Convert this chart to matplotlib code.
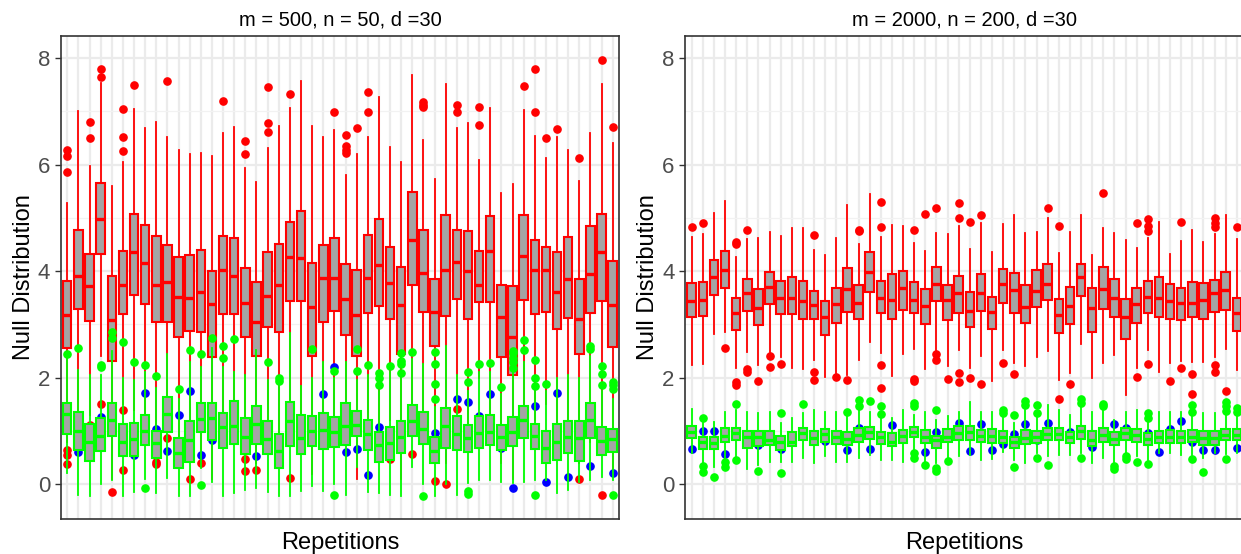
import matplotlib
matplotlib.use("Agg")
import matplotlib.pyplot as plt

plt.rcParams['font.family'] = ['Liberation Sans', 'DejaVu Sans']

# values: (lower whisker, q1, median, q3, upper whisker)
left_title = "m = 500, n = 50, d =30"
left_red = [
    (0.8, 2.55, 3.18, 3.82, 5.27), (1.2, 3.29, 3.91, 4.77, 7.0), (1.3, 3.06, 3.72, 4.33, 5.98),
    (2.4, 4.33, 4.98, 5.65, 7.53), (0.1, 2.32, 3.08, 3.91, 5.6), (1.5, 3.19, 3.74, 4.38, 6.04),
    (1.4, 3.56, 4.35, 5.08, 7.05), (1.3, 3.39, 4.16, 4.86, 6.69), (0.7, 3.05, 3.74, 4.66, 6.8),
    (1.0, 3.05, 3.79, 4.49, 6.52), (0.6, 2.77, 3.51, 4.26, 6.27), (0.8, 2.88, 3.49, 4.31, 6.2),
    (0.6, 2.85, 3.6, 4.39, 6.22), (0.1, 2.38, 3.39, 4.0, 6.17), (1.1, 3.19, 4.03, 4.66, 6.6),
    (1.1, 3.19, 3.9, 4.63, 6.71), (0.9, 2.77, 3.41, 4.05, 5.93), (0.4, 2.41, 3.05, 3.8, 5.67),
    (0.9, 2.96, 3.53, 4.36, 6.31), (0.45, 2.85, 3.74, 4.5, 6.72), (1.3, 3.44, 4.27, 4.93, 7.07),
    (1.0, 3.44, 4.25, 5.13, 7.56), (0.2, 2.41, 3.32, 4.16, 6.73), (1.0, 3.04, 3.87, 4.49, 6.51),
    (1.3, 3.26, 3.87, 4.63, 6.64), (0.9, 2.8, 3.48, 4.14, 5.81), (0.1, 2.41, 3.18, 4.02, 6.19),
    (1.1, 3.21, 3.87, 4.68, 6.52), (1.0, 3.34, 4.11, 4.98, 7.27), (1.2, 3.11, 3.78, 4.46, 6.33),
    (0.1, 2.44, 3.37, 4.08, 6.04), (1.25, 3.74, 4.58, 5.48, 7.69), (1.0, 3.24, 3.97, 4.77, 6.47),
    (0.8, 2.6, 3.24, 3.86, 5.72), (0.4, 3.16, 4.02, 5.05, 7.52), (1.6, 3.48, 4.18, 4.77, 6.69),
    (0.7, 3.1, 4.0, 4.75, 6.78), (2.0, 3.42, 3.73, 4.38, 6.09), (1.1, 3.42, 4.37, 5.03, 7.06),
    (0.4, 2.38, 3.13, 3.74, 5.46), (0.1, 2.05, 2.76, 3.72, 5.63), (1.1, 3.46, 4.29, 5.06, 7.02),
    (1.2, 3.19, 4.02, 4.59, 6.53), (1.5, 3.24, 4.03, 4.45, 6.13), (0.8, 2.92, 3.6, 4.36, 6.52),
    (0.9, 3.12, 3.85, 4.64, 6.27), (0.4, 2.44, 3.1, 3.85, 5.69), (0.8, 3.21, 3.94, 4.85, 6.59),
    (1.0, 3.44, 4.35, 5.08, 7.51), (0.2, 2.58, 3.36, 4.19, 6.41),
]
left_red_out = [
    [6.27, 6.16, 5.86, 0.65, 0.54, 0.37], [], [6.79, 6.49, 1.12], [7.8, 7.64, 1.51], [-0.14],
    [7.04, 6.51, 6.25, 1.4, 0.26], [7.49], [], [0.41, 0.38], [7.56, 0.87],
    [], [0.1], [0.39], [], [7.2],
    [], [6.44, 6.19, 0.47, 0.24], [0.26], [7.46, 6.78, 6.61], [],
    [7.32, 0.12], [], [], [], [6.99],
    [6.56, 6.35, 6.27, 6.21], [6.69], [7.37, 6.99], [], [0.47],
    [], [0.57], [7.17, 7.12, 7.08], [0.06], [0.0],
    [7.12, 6.99, 1.42], [], [7.08, 6.74], [], [],
    [], [7.47], [7.79, 6.99], [6.49], [6.66],
    [], [6.13, 0.09], [], [7.97, -0.2], [6.71],
]
left_green = [
    (0.21, 0.94, 1.31, 1.53, 2.35), (-0.2, 0.64, 1.0, 1.36, 2.15), (-0.23, 0.43, 0.8, 1.13, 2.05),
    (0.0, 0.63, 0.91, 1.25, 2.05), (0.08, 0.91, 1.21, 1.52, 2.5), (-0.23, 0.52, 0.8, 1.13, 2.0),
    (-0.14, 0.53, 0.84, 1.14, 1.95), (0.1, 0.74, 1.0, 1.29, 2.1), (-0.16, 0.49, 0.77, 1.0, 1.8),
    (0.11, 0.97, 1.31, 1.63, 2.45), (-0.23, 0.3, 0.59, 0.86, 1.6), (-0.23, 0.41, 0.82, 1.19, 2.3),
    (0.3, 0.98, 1.22, 1.53, 2.2), (0.04, 0.82, 1.24, 1.53, 2.55), (-0.22, 0.68, 1.07, 1.34, 2.2),
    (-0.17, 0.76, 1.1, 1.56, 2.1), (-0.11, 0.57, 0.89, 1.25, 2.05), (-0.07, 0.75, 1.13, 1.46, 2.52),
    (-0.15, 0.56, 0.84, 1.19, 1.95), (-0.23, 0.31, 0.63, 0.94, 1.85), (-0.23, 0.71, 1.18, 1.55, 2.83),
    (-0.12, 0.56, 0.86, 1.3, 1.84), (-0.03, 0.72, 1.0, 1.28, 2.0), (-0.12, 0.66, 1.02, 1.33, 2.3),
    (0.0, 0.69, 0.97, 1.26, 2.0), (-0.2, 0.74, 1.1, 1.53, 2.3), (0.33, 0.91, 1.11, 1.38, 1.95),
    (-0.14, 0.64, 0.94, 1.21, 2.05), (-0.16, 0.41, 0.74, 0.97, 1.75), (-0.2, 0.46, 0.77, 1.08, 2.1),
    (-0.22, 0.59, 0.88, 1.19, 2.0), (0.33, 0.91, 1.18, 1.49, 2.35), (0.0, 0.76, 1.03, 1.36, 2.25),
    (-0.23, 0.39, 0.63, 0.88, 1.45), (0.0, 0.68, 1.1, 1.43, 2.6), (-0.2, 0.64, 0.94, 1.28, 2.05),
    (0.03, 0.61, 0.86, 1.11, 1.75), (0.07, 0.68, 0.96, 1.28, 2.1), (0.08, 0.74, 0.97, 1.29, 2.1),
    (0.05, 0.64, 0.89, 1.11, 1.7), (0.02, 0.71, 0.98, 1.27, 2.1), (0.05, 0.86, 1.21, 1.46, 2.3),
    (0.08, 0.66, 0.91, 1.13, 1.75), (0.08, 0.39, 0.68, 0.99, 1.75), (-0.17, 0.46, 0.8, 1.13, 2.0),
    (-0.11, 0.59, 0.88, 1.19, 2.05), (0.05, 0.44, 0.86, 1.18, 2.0), (0.07, 0.86, 1.21, 1.53, 2.4),
    (0.14, 0.54, 0.81, 1.07, 1.75), (0.08, 0.61, 0.85, 1.04, 1.6),
]
left_green_out = [
    [2.45], [2.56], [], [2.24, 2.2], [2.85, 2.75],
    [2.67], [2.3], [2.24, -0.08], [2.04], [],
    [1.78], [2.51], [2.45, -0.01], [2.74], [2.59, 2.36],
    [2.72], [], [], [2.29], [2.0, 1.93],
    [], [], [2.53], [], [2.13, -0.2],
    [], [2.53, 2.13], [2.24], [2.08, 1.99, 1.87], [2.21],
    [2.47, 2.32, 2.26, 2.08], [2.49], [-0.23], [2.49, 2.26, 1.88, 1.6], [],
    [], [2.11, 1.92, -0.12, -0.18], [2.26], [2.27], [1.82],
    [2.5, 2.46, 2.37, 2.3, 2.19], [2.7, 2.51], [2.33, 2.0, 1.85, -0.2], [1.88], [],
    [], [], [2.6, 2.54], [2.22, 2.07, 1.86], [1.91, 1.86, 1.79, -0.2],
]
left_blue_rep = [2, 4, 7, 8, 9, 10, 11, 12, 13, 14, 16, 18, 24, 25, 26, 27, 28, 29, 34, 35,
                 36, 37, 38, 39, 40, 41, 43, 44, 45, 46, 48, 50]
left_blue_val = [0.6, 1.27, 0.55, 1.71, 1.04, 0.63, 1.3, 1.75, 0.54, 0.82, 1.43, 0.53, 1.7, 2.2,
                 0.6, 0.66, 0.17, 1.07, 0.96, 0.82, 1.59, 1.55, 1.28, 1.7, 0.67, -0.08, 1.46,
                 0.04, 1.71, 0.14, 0.34, 0.21]

right_title = "m = 2000, n = 200, d =30"
right_red = [
    (2.24, 3.13, 3.43, 3.77, 4.64), (2.25, 3.16, 3.46, 3.8, 4.69), (2.81, 3.56, 3.88, 4.21, 5.1),
    (2.85, 3.68, 4.03, 4.38, 5.31), (2.18, 2.89, 3.21, 3.49, 4.26), (2.48, 3.25, 3.58, 3.85, 4.61),
    (2.23, 2.98, 3.31, 3.66, 4.63), (2.48, 3.38, 3.71, 3.99, 4.73), (2.39, 3.19, 3.49, 3.81, 4.66),
    (2.19, 3.19, 3.5, 3.88, 4.81), (2.16, 3.11, 3.44, 3.81, 4.81), (2.33, 3.11, 3.36, 3.63, 4.39),
    (2.02, 2.8, 3.13, 3.43, 4.31), (2.08, 3.03, 3.38, 3.68, 4.63), (2.05, 3.24, 3.66, 4.05, 5.24),
    (2.34, 3.11, 3.41, 3.74, 4.51), (2.66, 3.6, 3.99, 4.36, 5.44), (2.46, 3.21, 3.5, 3.81, 4.64),
    (2.03, 3.1, 3.46, 3.94, 4.86), (2.44, 3.27, 3.68, 4.0, 4.85), (2.53, 3.21, 3.46, 3.8, 4.52),
    (2.16, 3.0, 3.34, 3.66, 4.38), (2.52, 3.44, 3.76, 4.07, 4.71), (2.21, 3.08, 3.46, 3.74, 4.69),
    (2.52, 3.21, 3.59, 3.91, 4.84), (2.18, 2.96, 3.25, 3.6, 4.41), (2.41, 3.25, 3.58, 3.94, 4.91),
    (1.94, 2.91, 3.23, 3.52, 4.36), (2.52, 3.41, 3.76, 4.04, 4.88), (2.27, 3.21, 3.64, 3.96, 5.05),
    (2.21, 3.03, 3.33, 3.74, 4.72), (2.38, 3.33, 3.63, 4.02, 4.74), (2.5, 3.46, 3.76, 4.13, 5.0),
    (1.96, 2.84, 3.18, 3.48, 4.34), (2.09, 3.01, 3.34, 3.71, 4.74), (2.63, 3.53, 3.88, 4.14, 5.05),
    (2.0, 2.86, 3.3, 3.68, 4.31), (2.27, 3.29, 3.66, 4.07, 4.81), (2.43, 3.14, 3.49, 3.85, 4.72),
    (1.68, 2.72, 3.14, 3.48, 4.58), (2.18, 3.02, 3.39, 3.69, 4.44), (2.52, 3.21, 3.52, 3.81, 4.62),
    (2.11, 3.14, 3.5, 3.89, 4.93), (2.27, 3.1, 3.43, 3.75, 4.33), (2.31, 3.09, 3.41, 3.69, 4.57),
    (2.3, 3.13, 3.41, 3.8, 4.77), (2.3, 3.11, 3.46, 3.78, 4.55), (2.39, 3.23, 3.59, 3.84, 4.7),
    (2.53, 3.27, 3.64, 3.99, 5.05), (2.14, 2.88, 3.21, 3.5, 4.61),
]
right_red_out = [
    [4.83], [4.91], [], [2.55], [4.55, 4.5, 1.91, 1.86],
    [4.78, 2.16, 2.11], [1.93], [2.4, 2.2], [2.25], [],
    [], [4.68, 2.11, 1.96], [], [2.01], [1.96],
    [4.78, 4.75], [], [5.3, 4.82, 2.24, 1.8], [], [],
    [4.78, 1.98, 1.93], [5.07], [5.18, 2.45, 2.33], [1.98], [5.27, 4.99, 2.08, 1.91],
    [4.93, 1.99], [5.05, 1.88], [], [2.28], [2.07],
    [], [], [5.19], [4.84, 1.59], [1.88],
    [], [], [5.47], [], [],
    [4.91, 2.01], [4.98, 4.84, 4.75, 2.25], [], [1.93], [4.93, 2.19],
    [2.06, 1.69], [], [5.0, 4.91, 4.83, 2.23, 2.11], [1.75], [4.83],
]
right_green = [
    (0.58, 0.86, 0.98, 1.1, 1.41), (0.4, 0.66, 0.79, 0.88, 1.15), (0.33, 0.66, 0.77, 0.88, 1.16),
    (0.46, 0.8, 0.91, 1.05, 1.35), (0.5, 0.82, 0.96, 1.06, 1.39), (0.29, 0.68, 0.88, 0.99, 1.36),
    (0.36, 0.71, 0.89, 0.99, 1.33), (0.42, 0.73, 0.83, 0.99, 1.36), (0.42, 0.64, 0.79, 0.91, 1.15),
    (0.42, 0.71, 0.79, 0.98, 1.24), (0.5, 0.83, 0.96, 1.06, 1.33), (0.4, 0.73, 0.86, 1.0, 1.39),
    (0.52, 0.79, 0.94, 1.04, 1.36), (0.42, 0.75, 0.89, 1.0, 1.36), (0.42, 0.73, 0.85, 0.98, 1.3),
    (0.49, 0.8, 0.93, 1.05, 1.4), (0.55, 0.84, 0.98, 1.08, 1.35), (0.45, 0.76, 0.88, 0.98, 1.25),
    (0.45, 0.71, 0.8, 0.96, 1.24), (0.42, 0.77, 0.91, 1.02, 1.39), (0.65, 0.88, 0.98, 1.08, 1.3),
    (0.42, 0.77, 0.88, 1.01, 1.35), (0.4, 0.68, 0.82, 0.91, 1.2), (0.5, 0.79, 0.88, 1.04, 1.28),
    (0.52, 0.83, 0.96, 1.1, 1.35), (0.55, 0.83, 0.98, 1.1, 1.54), (0.45, 0.79, 0.91, 1.02, 1.35),
    (0.48, 0.77, 0.91, 1.04, 1.36), (0.6, 0.77, 0.89, 1.0, 1.25), (0.45, 0.68, 0.79, 0.88, 1.15),
    (0.4, 0.75, 0.86, 1.02, 1.4), (0.58, 0.77, 0.89, 1.0, 1.3), (0.52, 0.83, 0.94, 1.06, 1.48),
    (0.55, 0.82, 0.94, 1.05, 1.4), (0.54, 0.77, 0.88, 0.98, 1.3), (0.58, 0.85, 0.99, 1.09, 1.45),
    (0.4, 0.71, 0.83, 0.99, 1.36), (0.49, 0.79, 0.93, 1.05, 1.4), (0.41, 0.73, 0.85, 0.98, 1.2),
    (0.55, 0.83, 0.96, 1.06, 1.36), (0.52, 0.8, 0.93, 1.04, 1.39), (0.45, 0.73, 0.84, 0.96, 1.2),
    (0.58, 0.77, 0.88, 1.0, 1.36), (0.58, 0.77, 0.89, 1.02, 1.36), (0.55, 0.77, 0.89, 1.0, 1.36),
    (0.55, 0.79, 0.89, 1.02, 1.28), (0.49, 0.74, 0.86, 0.99, 1.33), (0.58, 0.73, 0.86, 1.0, 1.33),
    (0.56, 0.82, 0.93, 1.03, 1.3), (0.58, 0.82, 0.93, 1.04, 1.3),
]
right_green_out = [
    [], [1.24, 0.34, 0.23], [0.13], [0.41, 0.33], [1.51, 0.46],
    [], [0.25], [], [1.33, 0.21], [],
    [1.5], [], [], [], [1.36],
    [1.58, 1.46], [1.56], [1.46, 1.32], [], [],
    [1.52, 1.46, 0.59, 0.49], [0.36], [1.39, 0.31, 0.25], [0.43], [],
    [], [], [], [1.39, 1.34], [1.3, 0.32],
    [1.56, 1.48], [1.48, 1.34, 0.49], [0.36], [], [],
    [1.6, 1.52, 0.49], [], [1.5, 1.46], [0.35, 0.28], [0.52, 0.47],
    [0.41], [1.33, 1.25, 0.38], [], [], [],
    [1.48, 1.35, 0.48], [0.23], [], [1.55, 1.47, 1.38, 0.47], [1.43, 1.35],
]
right_blue_rep = [1, 2, 3, 4, 7, 9, 13, 15, 16, 17, 19, 22, 23, 25, 26, 27, 28, 29, 30, 31, 32,
                  33, 35, 37, 39, 40, 42, 43, 44, 45, 46, 47, 48, 50]
right_blue_val = [0.66, 1.0, 1.0, 0.56, 0.73, 0.66, 0.81, 0.64, 1.06, 0.66, 1.11, 0.6, 0.98,
                  1.14, 0.63, 1.13, 0.64, 0.75, 0.94, 1.13, 0.82, 1.14, 0.98, 0.69, 1.13, 1.06,
                  0.96, 0.6, 1.04, 1.19, 0.79, 0.64, 0.64, 0.68]

BOX_FILL = '#A4A4A4'
RED = '#FF0000'
GREEN = '#00FF00'
BLUE = '#0000FF'


def to_stats(rows, outliers):
    return [dict(whislo=r[0], q1=r[1], med=r[2], q3=r[3], whishi=r[4], fliers=o)
            for r, o in zip(rows, outliers)]


def draw_boxes(ax, rows, outliers, color, z):
    ax.bxp(to_stats(rows, outliers), positions=range(1, len(rows) + 1), widths=0.76,
           patch_artist=True, showcaps=False, manage_ticks=False, zorder=z,
           boxprops=dict(facecolor=BOX_FILL, edgecolor=color, linewidth=1.5),
           whiskerprops=dict(color=color, linewidth=1.3),
           medianprops=dict(color=color, linewidth=2.4),
           flierprops=dict(marker='o', markerfacecolor=color, markeredgecolor=color,
                           markersize=5.2))


def panel(ax, title, red, red_out, green, green_out, blue_rep, blue_val):
    n = len(red)
    for k in range(1, n + 1):
        ax.axvline(k, color='#EBEBEB', linewidth=1.6, zorder=0)
    for yv in [0, 2, 4, 6, 8]:
        ax.axhline(yv, color='#EBEBEB', linewidth=1.6, zorder=0)
    for yv in [1, 3, 5, 7]:
        ax.axhline(yv, color='#F2F2F2', linewidth=0.9, zorder=0)

    draw_boxes(ax, red, red_out, RED, 2)
    ax.plot(blue_rep, blue_val, 'o', color=BLUE, markersize=5.2, zorder=2.5)
    draw_boxes(ax, green, green_out, GREEN, 3)

    ax.set_xlim(0.4, n + 0.6)
    ax.set_ylim(-0.66, 8.42)
    ax.set_xticks([])
    ax.set_yticks([0, 2, 4, 6, 8])
    ax.tick_params(axis='y', labelsize=16, labelcolor='#4D4D4D', color='#333333',
                   length=4, width=1)
    for s in ax.spines.values():
        s.set_color('#333333')
        s.set_linewidth(1.2)
    ax.set_title(title, fontsize=14.5, pad=7)
    ax.set_xlabel("Repetitions", fontsize=17, labelpad=9)
    ax.set_ylabel("Null Distribution", fontsize=17, labelpad=2)


fig = plt.figure(figsize=(12.41, 5.54), dpi=100)
ax1 = fig.add_axes([0.0488, 0.0626, 0.4503, 0.873])
ax2 = fig.add_axes([0.552, 0.0626, 0.45, 0.873])

panel(ax1, left_title, left_red, left_red_out, left_green, left_green_out,
      left_blue_rep, left_blue_val)
panel(ax2, right_title, right_red, right_red_out, right_green, right_green_out,
      right_blue_rep, right_blue_val)

fig.savefig("out.png", dpi=100)
